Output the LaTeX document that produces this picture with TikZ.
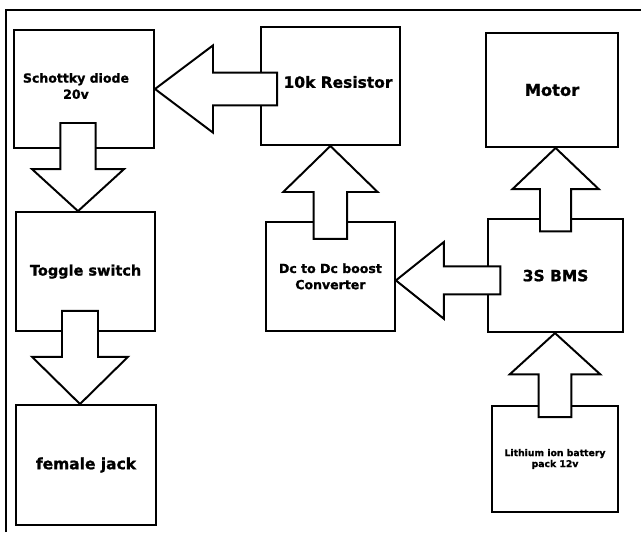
\documentclass[tikz,border=0pt]{standalone}
\usepackage{fontspec}
\setmainfont{DejaVu Sans}[BoldFeatures={FakeBold=1.2}]
\usetikzlibrary{calc}

\begin{document}
\begin{tikzpicture}[bigtext/.style={font=\bfseries\fontsize{11}{13}\selectfont},
    midtext/.style={font=\bfseries\fontsize{8.9}{11.5}\selectfont},
    smalltext/.style={font=\bfseries\fontsize{6.6}{7.8}\selectfont},
    blocktag/.style={rectangle, draw, line width=1.4pt, inner sep=0pt, align=center, bigtext},
    shaftw/.store in=\shaftw, headw/.store in=\headw, headl/.store in=\headl,
    shaftw=0.42cm, headw=1.12cm, headl=1.1cm,
    fatarrow/.style={draw, fill=white, line width=1.4pt,
      to path={let \p1=(\tikztostart), \p2=(\tikztotarget), \p3=($(\p2)!\headl!(\p1)$) in
        ($(\p1)!\shaftw!90:(\p2)$) -- ($(\p3)!\shaftw!90:(\p2)$) -- ($(\p3)!\headw!90:(\p2)$) -- (\p2)
        -- ($(\p3)!\headw!-90:(\p2)$) -- ($(\p3)!\shaftw!-90:(\p2)$) -- ($(\p1)!\shaftw!-90:(\p2)$) -- cycle}}]
        \useasboundingbox (0,0) rectangle (16.025,-13.3);
        % Frame
        \draw[line width=1pt] (0.15,-13.3) -- (0.15,-0.25) -- (16.025,-0.25);
        
        % Nodes
        \node[blocktag, minimum width=3.5cm, minimum height=2.95cm,
              label={[midtext, align=center, xshift=-0.2cm, yshift=0.075cm]center:Schottky diode\\20v}] (diode) at (2.1,-2.225) {};
        \node[blocktag, minimum width=3.475cm, minimum height=2.95cm,
              label={[bigtext, xshift=0.19cm, yshift=0.1cm]center:10k Resistor}] (resistor) at (8.26,-2.15) {};
        \node[blocktag, font=\bfseries\fontsize{11.6}{13}\selectfont, minimum width=3.3cm, minimum height=2.85cm] (motor) at (13.8,-2.25) {Motor};
        
        \node[blocktag, font=\bfseries\fontsize{10.3}{13}\selectfont, minimum width=3.475cm, minimum height=2.975cm] (toggle) at (2.14,-6.79) {Toggle switch};
        \node[blocktag, midtext, minimum width=3.225cm, minimum height=2.725cm] (boost) at (8.26,-6.91) {Dc to Dc boost\\Converter};
        \node[blocktag, minimum width=3.375cm, minimum height=2.825cm] (bms) at (13.89,-6.89) {3S BMS};
        
        \node[blocktag, minimum width=3.5cm, minimum height=3cm] (jack) at (2.15,-11.625) {female jack};
        \node[blocktag, smalltext, minimum width=3.15cm, minimum height=2.65cm] (battery) at (13.875,-11.475) {Lithium ion battery\\pack 12v};
        
        % Arrows
        \draw[fatarrow, shaftw=0.41cm, headw=1.09cm, headl=1.45cm] ($(diode.east -| resistor.west)+(0.43,0)$) to (diode.east);
        \draw[fatarrow, shaftw=0.44cm, headw=1.15cm, headl=1.05cm] ($(diode.south)+(-0.15,0.65)$) to ($(toggle.north)+(-0.19,0)$);
        \draw[fatarrow, shaftw=0.45cm, headw=1.2cm, headl=1.18cm] ($(toggle.south)+(-0.14,0.53)$) to ($(jack.north)+(-0.15,0)$);
        \draw[fatarrow, headw=1.18cm, headl=1.15cm] ($(boost.north)+(0,-0.45)$) to (resistor.south);
        \draw[fatarrow, shaftw=0.35cm, headw=0.96cm, headl=1.2cm] ($(boost.east -| bms.west)+(0.33,-0.1)$) to ($(boost.east)+(0,-0.1)$);
        \draw[fatarrow, shaftw=0.39cm, headw=1.08cm, headl=1.03cm] ($(bms.north)+(0,-0.33)$) to (motor.south -| bms.north);
        \draw[fatarrow, shaftw=0.41cm, headw=1.13cm, headl=1.03cm] ($(battery.north)+(0,-0.3)$) to (bms.south -| battery.north);
        
\end{tikzpicture}
\end{document}
